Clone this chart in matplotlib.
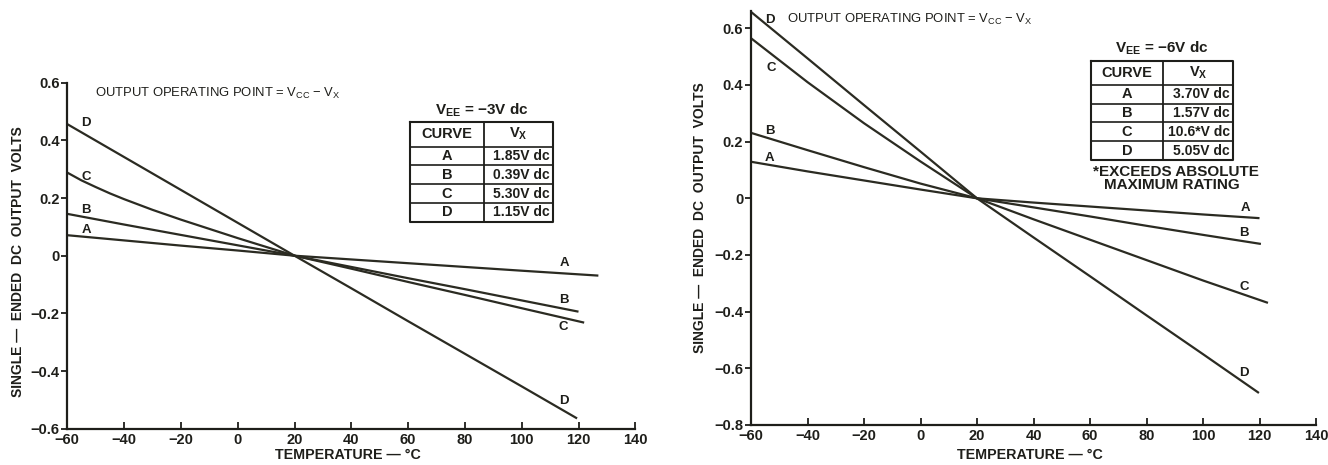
import matplotlib
matplotlib.use("Agg")
import matplotlib.pyplot as plt
from matplotlib.lines import Line2D

plt.rcParams['font.family'] = ['Liberation Sans', 'DejaVu Sans']
plt.rcParams['mathtext.fontset'] = 'custom'
plt.rcParams['mathtext.rm'] = 'Liberation Sans'
plt.rcParams['mathtext.it'] = 'Liberation Sans'
plt.rcParams['mathtext.bf'] = 'Liberation Sans:bold'
plt.rcParams['mathtext.default'] = 'regular'

# ---------------- data ----------------
curves = ['A', 'B', 'C', 'D']

# Left panel: VEE = -3 V dc
left_temp = {
    'A': [-60, -40, -20, 0, 20, 40, 60, 80, 100, 127],
    'B': [-60, -40, -20, 0, 20, 40, 60, 80, 100, 120],
    'C': [-60, -55, -50, -45, -40, -30, -20, 0, 20, 40, 60, 80, 100, 122],
    'D': [-60, -40, -20, 0, 20, 40, 60, 80, 100, 119.5],
}
left_volts = {
    'A': [0.071, 0.053, 0.035, 0.018, 0.0, -0.013, -0.026, -0.039, -0.052, -0.069],
    'B': [0.145, 0.108, 0.072, 0.036, 0.0, -0.039, -0.078, -0.116, -0.155, -0.194],
    'C': [0.288, 0.261, 0.238, 0.216, 0.196, 0.159, 0.125, 0.061, 0.0,
          -0.045, -0.091, -0.136, -0.182, -0.232],
    'D': [0.456, 0.342, 0.228, 0.114, 0.0, -0.113, -0.227, -0.340, -0.453, -0.564],
}
left_vx = ['1.85V dc', '0.39V dc', '5.30V dc', '1.15V dc']
left_vee = '−3V dc'

# Right panel: VEE = -6 V dc
right_temp = {
    'A': [-60, -40, -20, 0, 20, 40, 60, 80, 100, 120],
    'B': [-60, -40, -20, 0, 20, 40, 60, 80, 100, 120.5],
    'C': [-60, -40, -20, 0, 20, 40, 60, 80, 100, 123],
    'D': [-60, -40, -20, 0, 20, 40, 60, 80, 100, 119.8],
}
right_volts = {
    'A': [0.129, 0.095, 0.063, 0.031, 0.0, -0.015, -0.029, -0.043, -0.057, -0.070],
    'B': [0.231, 0.170, 0.110, 0.052, 0.0, -0.032, -0.064, -0.097, -0.129, -0.161],
    'C': [0.565, 0.410, 0.265, 0.130, 0.0, -0.074, -0.146, -0.218, -0.290, -0.369],
    'D': [0.658, 0.494, 0.329, 0.165, 0.0, -0.138, -0.275, -0.413, -0.550, -0.687],
}
right_vx = ['3.70V dc', '1.57V dc', '10.6*V dc', '5.05V dc']
right_vee = '−6V dc'

x_ticks = [-60, -40, -20, 0, 20, 40, 60, 80, 100, 120, 140]
x_ticklabels = ['−60', '−40', '−20', '0', '20', '40', '60', '80', '100', '120', '140']
left_yticks = [-0.6, -0.4, -0.2, 0, 0.2, 0.4, 0.6]
left_yticklabels = ['−0.6', '−0.4', '−0.2', '0', '0.2', '0.4', '0.6']
right_yticks = [-0.8, -0.6, -0.4, -0.2, 0, 0.2, 0.4, 0.6]
right_yticklabels = ['−0.8', '−0.6', '−0.4', '−0.2', '0', '0.2', '0.4', '0.6']

# label positions (data coords) for curve letters
left_start_lbl = {'D': (-53.4, 0.46), 'C': (-53.4, 0.272), 'B': (-53.4, 0.158), 'A': (-53.4, 0.089)}
left_end_lbl = {'A': (114.9, -0.026), 'B': (114.9, -0.154), 'C': (114.7, -0.248), 'D': (114.7, -0.503)}
right_start_lbl = {'D': (-53.3, 0.63), 'C': (-52.7, 0.461), 'B': (-53.3, 0.237), 'A': (-53.3, 0.143)}
right_end_lbl = {'A': (114.9, -0.035), 'B': (114.5, -0.121), 'C': (114.5, -0.312), 'D': (114.5, -0.615)}

INK = '#1e1e1a'
LINE = '#2b2b22'

W, H = 1328, 465
fig = plt.figure(figsize=(W / 100, H / 100), dpi=100)
fig.patch.set_facecolor('white')


def px_axes(l, r, b, t):
    return [l / W, 1 - b / H, (r - l) / W, (b - t) / H]


def style_axes(ax, ylim, yticks, yticklabels):
    ax.set_xlim(-60, 140)
    ax.set_ylim(*ylim)
    for s in ['top', 'right']:
        ax.spines[s].set_visible(False)
    for s in ['left', 'bottom']:
        ax.spines[s].set_linewidth(1.6)
        ax.spines[s].set_color(INK)
    ax.set_xticks(x_ticks)
    ax.set_xticklabels(x_ticklabels, fontsize=10.5, fontweight='bold', color=INK)
    ax.set_yticks(yticks)
    ax.set_yticklabels(yticklabels, fontsize=10.5, fontweight='bold', color=INK)
    ax.tick_params(axis='x', direction='in', length=5, width=1.3, pad=3, color=INK)
    ax.tick_params(axis='y', direction='out', length=4, width=1.3, pad=1.5, color=INK)
    ax.patch.set_alpha(0)


def draw_table(x_left, x_split, x_right, y_top, y_head, row_h, title, title_y, vx):
    tr = fig.transFigure
    def fx(x):
        return x / W
    def fy(y):
        return 1 - y / H
    n = len(curves)
    y_bot = y_head + n * row_h
    fig.add_artist(Line2D([fx(x_left), fx(x_right), fx(x_right), fx(x_left), fx(x_left)],
                          [fy(y_top), fy(y_top), fy(y_bot), fy(y_bot), fy(y_top)],
                          transform=tr, color=INK, lw=1.5))
    fig.add_artist(Line2D([fx(x_split), fx(x_split)], [fy(y_top), fy(y_bot)],
                          transform=tr, color=INK, lw=1.3))
    for i in range(n):
        yy = y_head + i * row_h
        fig.add_artist(Line2D([fx(x_left), fx(x_right)], [fy(yy), fy(yy)],
                              transform=tr, color=INK, lw=1.2))
    c1 = (x_left + x_split) / 2
    c2 = (x_split + x_right) / 2
    fig.text(fx(c1), fy((y_top + y_head) / 2), 'CURVE', ha='center', va='center',
             fontsize=10.5, fontweight='bold', color=INK)
    fig.text(fx(c2), fy((y_top + y_head) / 2), r'V$_{X}$', ha='center', va='center',
             fontsize=10.5, fontweight='bold', color=INK)
    for i, (c, v) in enumerate(zip(curves, vx)):
        yc = y_head + (i + 0.5) * row_h
        fig.text(fx(c1), fy(yc), c, ha='center', va='center', fontsize=10.5,
                 fontweight='bold', color=INK)
        fig.text(fx(x_right - 3), fy(yc), v, ha='right', va='center', fontsize=10,
                 fontweight='bold', color=INK)
    fig.text(fx((x_left + x_right) / 2), fy(title_y), r'V$_{EE}$ = ' + title,
             ha='center', va='center', fontsize=11, fontweight='bold', color=INK)


panels = [
    dict(rect=px_axes(67.3, 635.3, 428.8, 82.6), temp=left_temp, volts=left_volts,
         ylim=(-0.6, 0.6), yt=left_yticks, ytl=left_yticklabels,
         sl=left_start_lbl, el=left_end_lbl, ylab_x=18, ylab_y=262,
         xlab_x=348, note_x=95, note_y=93),
    dict(rect=px_axes(751, 1316, 425, 11.3), temp=right_temp, volts=right_volts,
         ylim=(-0.8, 0.66), yt=right_yticks, ytl=right_yticklabels,
         sl=right_start_lbl, el=right_end_lbl, ylab_x=700, ylab_y=218,
         xlab_x=1030, note_x=787, note_y=19),
]

for p in panels:
    ax = fig.add_axes(p['rect'])
    style_axes(ax, p['ylim'], p['yt'], p['ytl'])
    for c in curves:
        ax.plot(p['temp'][c], p['volts'][c], color=LINE, lw=1.6, solid_capstyle='butt',
                solid_joinstyle='round', clip_on=False)
        x0, y0 = p['sl'][c]
        ax.text(x0, y0, c, ha='center', va='center', fontsize=9.5, fontweight='bold', color=INK)
        x1, y1 = p['el'][c]
        ax.text(x1, y1, c, ha='center', va='center', fontsize=9.5, fontweight='bold', color=INK)
    fig.text(p['ylab_x'] / W, 1 - p['ylab_y'] / H, 'SINGLE —  ENDED  DC  OUTPUT  VOLTS',
             rotation=90, ha='center', va='center', fontsize=10, fontweight='bold', color=INK)
    fig.text(p['xlab_x'] / W, 1 - 455 / H, 'TEMPERATURE — °C', ha='center', va='center',
             fontsize=10.3, fontweight='bold', color=INK)
    fig.text(p['note_x'] / W, 1 - p['note_y'] / H,
             r'OUTPUT OPERATING POINT = V$_{CC}$ − V$_{X}$', ha='left', va='center',
             fontsize=9.4, color=INK)

draw_table(410, 484, 553, 121.7, 146.7, 18.75, left_vee, 110, left_vx)
draw_table(1091, 1163, 1233, 61, 85, 18.75, right_vee, 48, right_vx)
fig.text(1176 / W, 1 - 172 / H, '*EXCEEDS ABSOLUTE', ha='center', va='center',
         fontsize=11, fontweight='bold', color=INK)
fig.text(1172 / W, 1 - 185 / H, 'MAXIMUM RATING', ha='center', va='center',
         fontsize=11, fontweight='bold', color=INK)

fig.savefig('out.png', dpi=100, facecolor='white')
